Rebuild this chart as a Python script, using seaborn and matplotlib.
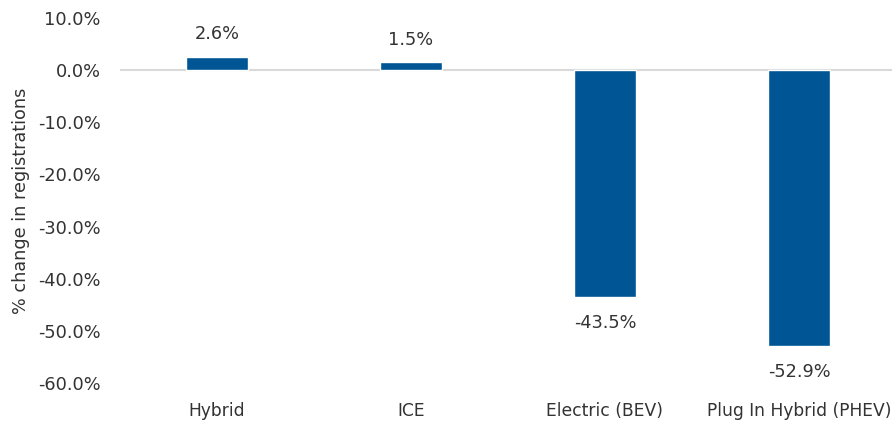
import pandas as pd
import seaborn as sns
import matplotlib.pyplot as plt

categories = ['Hybrid', 'ICE', 'Electric (BEV)', 'Plug In Hybrid (PHEV)']
changes = [2.6, 1.5, -43.5, -52.9]
yticks = [10, 0, -10, -20, -30, -40, -50, -60]

df = pd.DataFrame({'type': categories, 'change': changes})

sns.set_style('white')
plt.rcParams['font.family'] = ['DejaVu Sans']
txt = '#333333'

fig = plt.figure(figsize=(8.92, 4.24), dpi=100)
ax = fig.add_axes([0.1345, 0.0967, 0.8700, 0.8608])
sns.barplot(data=df, x='type', y='change', color='#005595', width=0.315,
            saturation=1, ax=ax)
ax.axhline(0, color='#d9d9d9', lw=1.5, zorder=0)
ax.set_ylim(-60, 10)
ax.set_xlim(-0.5, 3.5)
ax.set_yticks(yticks)
ax.set_yticklabels([f'{t:.1f}%' for t in yticks])
for s in ax.spines.values():
    s.set_visible(False)
ax.tick_params(axis='both', length=0, labelsize=12.8, colors=txt)
ax.tick_params(axis='x', labelsize=12.3, pad=14)
ax.tick_params(axis='y', pad=14)
ax.set_xlabel('')
ax.set_ylabel('% change in registrations', fontsize=12.7, color=txt)
ax.yaxis.set_label_coords(-0.1155, 0.5)

for i, v in enumerate(changes):
    off = 16 if v > 0 else -19
    ax.annotate(f'{v:.1f}%', (i, v), xytext=(0, off), textcoords='offset points',
                ha='center', va='center', fontsize=12.8, color=txt)

fig.savefig('out.png', dpi=100)
